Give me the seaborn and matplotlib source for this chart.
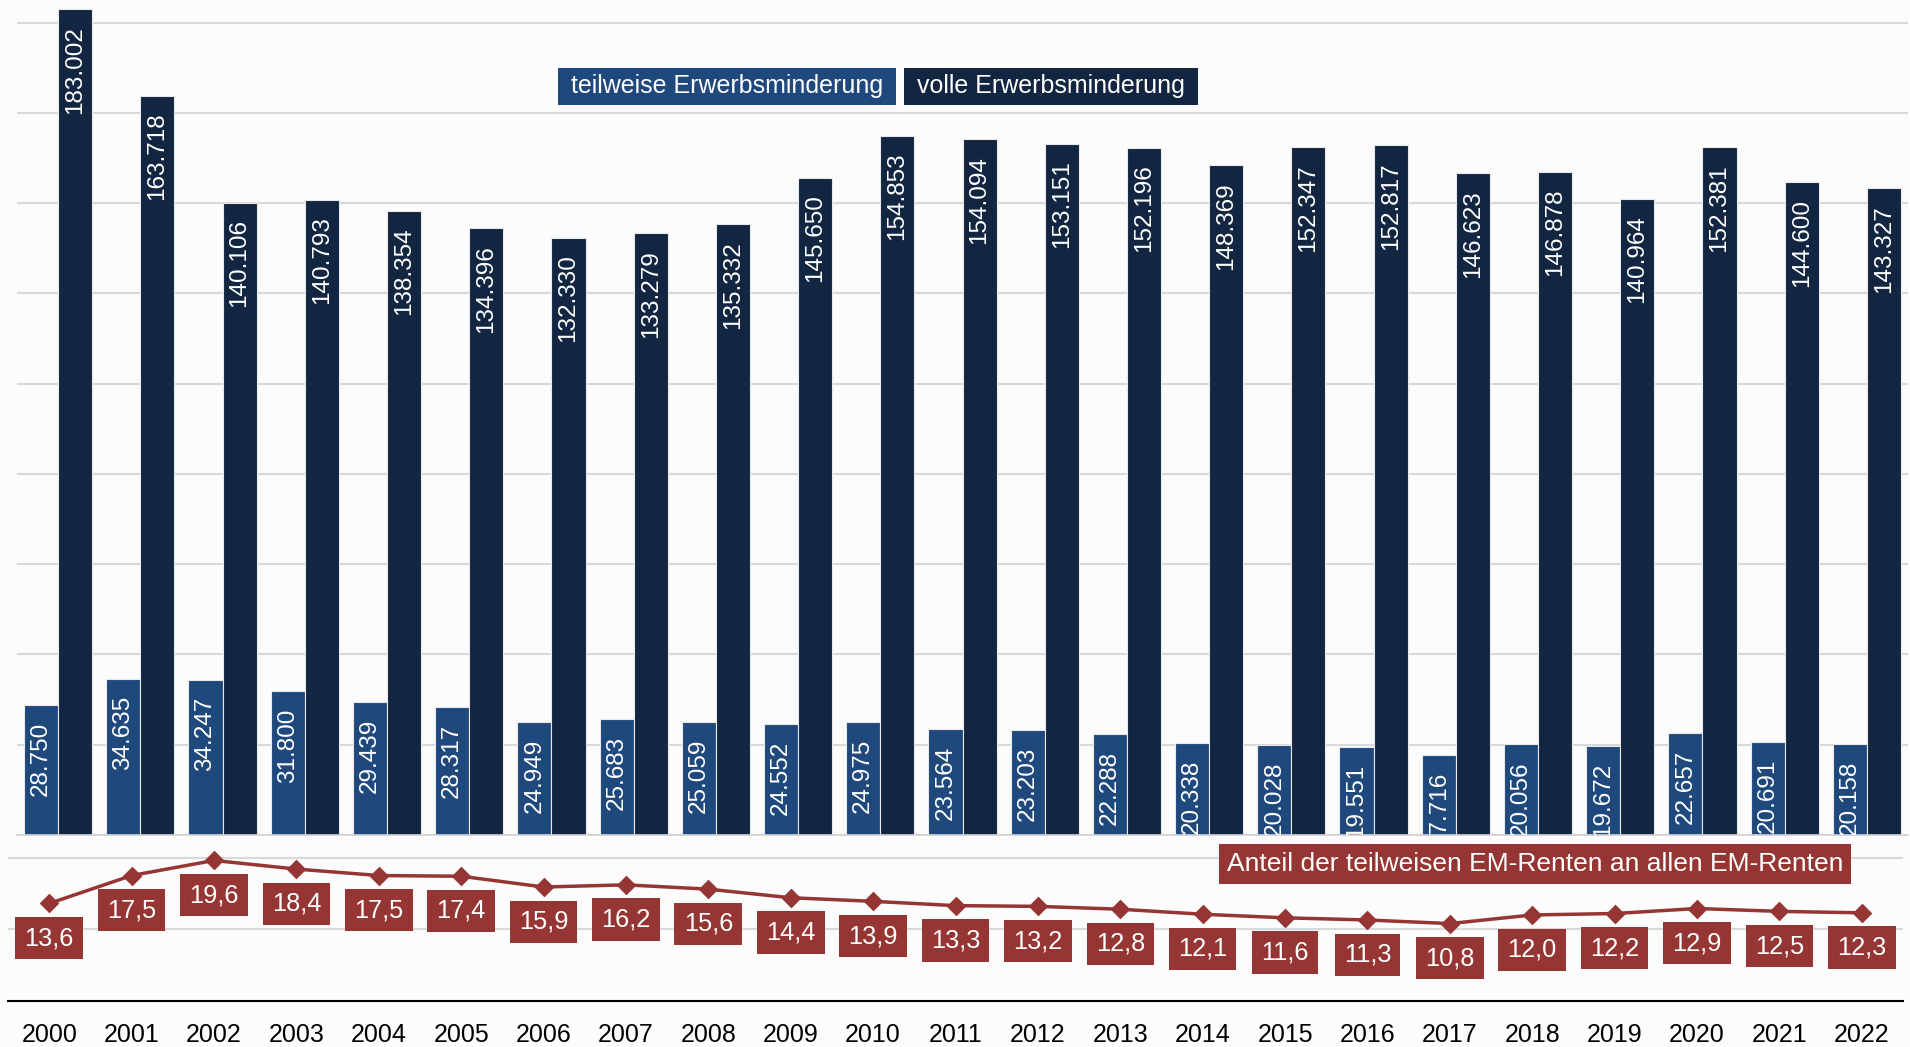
import numpy as np
import pandas as pd
import matplotlib.pyplot as plt
import seaborn as sns

# Daten
jahre = [str(j) for j in range(2000, 2023)]
teilweise = [28750, 34635, 34247, 31800, 29439, 28317, 24949, 25683, 25059, 24552, 24975, 23564,
             23203, 22288, 20338, 20028, 19551, 17716, 20056, 19672, 22657, 20691, 20158]
volle = [183002, 163718, 140106, 140793, 138354, 134396, 132330, 133279, 135332, 145650, 154853, 154094,
         153151, 152196, 148369, 152347, 152817, 146623, 146878, 140964, 152381, 144600, 143327]
anteil = [13.6, 17.5, 19.6, 18.4, 17.5, 17.4, 15.9, 16.2, 15.6, 14.4, 13.9, 13.3,
          13.2, 12.8, 12.1, 11.6, 11.3, 10.8, 12.0, 12.2, 12.9, 12.5, 12.3]
serien = ['teilweise Erwerbsminderung', 'volle Erwerbsminderung']

df = pd.DataFrame({
    'Jahr': jahre * 2,
    'Wert': teilweise + volle,
    'Art': [serien[0]] * len(jahre) + [serien[1]] * len(jahre),
})

hell = '#1f487c'
dunkel = '#122641'
rot = '#963634'
bg = '#fcfcfc'

sns.set_theme(style='white')
plt.rcParams['font.family'] = ['Liberation Sans', 'DejaVu Sans']

W, H = 1910, 1047
fig = plt.figure(figsize=(W / 100, H / 100), dpi=100, facecolor=bg)
ax = fig.add_axes([17 / W, 212 / H, 1891 / W, 835 / H])
ax2 = fig.add_axes([8 / W, 46 / H, 1895 / W, 166 / H])
for a in (ax, ax2):
    a.set_facecolor('none')

# Balken
sns.barplot(data=df, x='Jahr', y='Wert', hue='Art', palette=[hell, dunkel], width=0.83,
            saturation=1, edgecolor='#e8e8e8', linewidth=0.8, legend=False, ax=ax)
for cont, werte in zip(ax.containers, [teilweise, volle]):
    for rect, v in zip(cont, werte):
        ax.annotate(f'{v:,}'.replace(',', '.'), (rect.get_x() + rect.get_width() / 2, rect.get_height()),
                    xytext=(0, -12), textcoords='offset points', rotation=90, ha='center', va='top',
                    color='white', fontsize=17.5, annotation_clip=False, clip_on=True)

ax.set_ylim(0, 185000)
ax.set_xlim(-0.5, len(jahre) - 0.5)
ax.set_yticks(range(0, 185001, 20000))
ax.grid(axis='y', color='#d9d9d9', lw=1.5)
ax.set_axisbelow(True)
ax.tick_params(axis='y', length=0, labelleft=False)
ax.tick_params(axis='x', which='major', length=0, labelbottom=False)
ax.set_xticks(np.arange(-0.5, len(jahre), 1), minor=True)
ax.tick_params(axis='x', which='minor', length=6, width=1.2, color='#d0d0d0', direction='out')
ax.set_xlabel('')
ax.set_ylabel('')
for s in ['top', 'left', 'right']:
    ax.spines[s].set_visible(False)
ax.spines['bottom'].set_color('#d0d0d0')
ax.spines['bottom'].set_linewidth(1.2)

# Anteil-Linie
sns.pointplot(x=jahre, y=anteil, color=rot, markers='D', markersize=8, linewidth=2.5,
              errorbar=None, ax=ax2)
for i, v in enumerate(anteil):
    ax2.annotate(f'{v:.1f}'.replace('.', ','), (i, v), xytext=(0, -25), textcoords='offset points',
                 ha='center', va='center', color='white', fontsize=18.3,
                 bbox=dict(boxstyle='square,pad=0.36', fc=rot, ec='none'))

ax2.set_ylim(0, 166 / 7.17)
ax2.set_xlim(-0.5, len(jahre) - 0.5)
ax2.set_yticks([10, 20])
ax2.grid(axis='y', color='#d9d9d9', lw=1.5)
ax2.set_axisbelow(True)
ax2.tick_params(axis='y', length=0, labelleft=False)
ax2.tick_params(axis='x', which='major', length=0, pad=16, labelsize=18, labelcolor='black')
ax2.set_xticks(np.arange(-0.5, len(jahre), 1), minor=True)
ax2.tick_params(axis='x', which='minor', length=6, width=1.5, color='black', direction='in')
ax2.set_xlabel('')
ax2.set_ylabel('')
for s in ['top', 'left', 'right']:
    ax2.spines[s].set_visible(False)
ax2.spines['bottom'].set_color('black')
ax2.spines['bottom'].set_linewidth(1.5)

# Legenden als Textfelder
fig.text(727 / W, 1 - 86.5 / H, ' ' + serien[0] + ' ', ha='center', va='center', color='white',
         fontsize=18, bbox=dict(boxstyle='square,pad=0.25', fc=hell, ec='none'))
fig.text(1051 / W, 1 - 86.5 / H, ' ' + serien[1] + ' ', ha='center', va='center', color='white',
         fontsize=18, bbox=dict(boxstyle='square,pad=0.25', fc=dunkel, ec='none'))
fig.text(1535 / W, 1 - 864 / H, 'Anteil der teilweisen EM-Renten an allen EM-Renten', ha='center',
         va='center', color='white', fontsize=19, bbox=dict(boxstyle='square,pad=0.3', fc=rot, ec='none'))

fig.savefig('out.png', dpi=100, facecolor=bg)
